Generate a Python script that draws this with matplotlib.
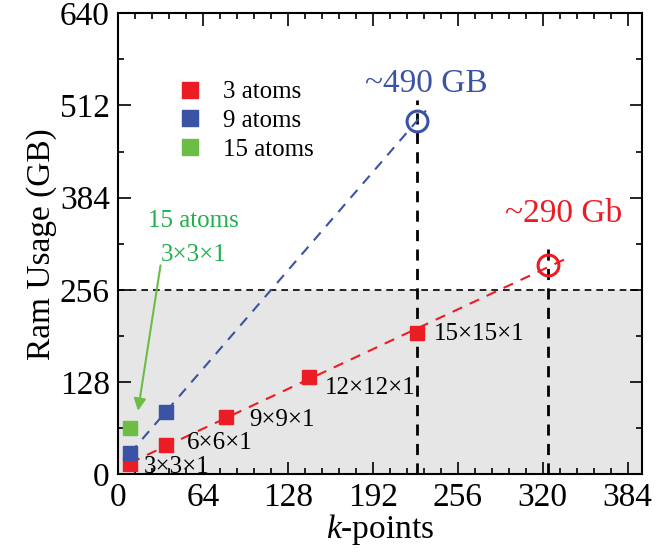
import numpy as np
import matplotlib.pyplot as plt
from matplotlib.ticker import MultipleLocator

plt.rcParams['font.family'] = ['Liberation Serif', 'DejaVu Serif']
plt.rcParams['mathtext.fontset'] = 'custom'
plt.rcParams['mathtext.it'] = 'Liberation Serif:italic'
plt.rcParams['mathtext.rm'] = 'Liberation Serif'

# data
k3 = [9, 36, 81, 144, 225]
ram3 = [14, 40, 79, 135, 196]
k9 = [9, 36]
ram9 = [29, 86]
k15 = [9]
ram15 = [64]
grids3 = ['3×3×1', '6×6×1', '9×9×1', '12×12×1', '15×15×1']
# extrapolated estimates
est9 = (225, 490)
est3 = (324, 290)

red = '#ec1c24'
blue = '#3a53a4'
green = '#6cbd45'
gtext = '#1fb14b'

fig = plt.figure(figsize=(6.56, 5.52), dpi=100)
ax = fig.add_axes([0.18, 0.141, 0.799, 0.835])

ax.set_xlim(0, 395)
ax.set_ylim(0, 640)

# shaded region below 256 GB
ax.axhspan(0, 256, color='#e6e6e6', zorder=0, lw=0)
ax.axhline(256, color='k', ls=(0, (4, 3)), lw=1.2, zorder=1)

# vertical guides
ax.vlines(est9[0], 0, 519, colors='k', linestyles=(0, (4, 3)), lw=2, zorder=1)
ax.vlines(est3[0], 0, 321, colors='k', linestyles=(0, (4, 3)), lw=2, zorder=1)

# trend lines
p3 = np.polyfit(k3 + [est3[0]], ram3 + [est3[1]], 1)
xr = np.array([9, 341])
ax.plot(xr, np.polyval(p3, xr), color=red, ls=(0, (5, 4)), lw=1.5, zorder=2)
p9 = np.polyfit([k9[0], est9[0]], [ram9[0], est9[1]], 1)
xb = np.array([9, 232])
ax.plot(xb, np.polyval(p9, xb), color=blue, ls=(0, (5, 4)), lw=1.5, zorder=2)

ax.plot(k3, ram3, 's', color=red, ms=10, ls='none', label='3 atoms', zorder=4)
ax.plot(k9, ram9, 's', color=blue, ms=10, ls='none', label='9 atoms', zorder=4)
ax.plot(k15, ram15, 's', color=green, ms=10, ls='none', label='15 atoms', zorder=4)

ax.plot(*est9, 'o', mfc='none', mec=blue, mew=2.2, ms=15, zorder=5)
ax.plot(*est3, 'o', mfc='none', mec=red, mew=2.2, ms=15, zorder=5)

ax.text(est9[0] + 7, 530, '~490 GB', color=blue, fontsize=24, ha='center', va='baseline')
ax.text(est3[0] + 12, 362, '~290 Gb', color=red, fontsize=24, ha='center', va='center')

offs = [(10, -4), (16, 3), (18, -4), (12, -15), (13, -2)]
for k, r, g, (dx, dy) in zip(k3, ram3, grids3, offs):
    ax.text(k + dx, r + dy, g, fontsize=18, ha='left', va='center')

ax.text(57, 352, '15 atoms', color=gtext, fontsize=18, ha='center', va='center')
ax.text(57, 304, '3×3×1', color=gtext, fontsize=18, ha='center', va='center')
ax.annotate('', xy=(15, 88), xytext=(32, 290),
            arrowprops=dict(arrowstyle='-|>', color=green, lw=1.5,
                            mutation_scale=18, shrinkA=0, shrinkB=0))

ax.set_xticks([0, 64, 128, 192, 256, 320, 384])
ax.set_yticks([0, 128, 256, 384, 512, 640])
ax.xaxis.set_minor_locator(MultipleLocator(12.8))
ax.yaxis.set_minor_locator(MultipleLocator(64))
ax.tick_params(which='both', direction='in', top=True, right=True, labelsize=24, width=1.2)
ax.tick_params(which='major', length=9, pad=6)
ax.tick_params(which='minor', length=4.5)
for s in ax.spines.values():
    s.set_linewidth(1.5)

ax.set_xlabel('$k$-points', fontsize=24, labelpad=-1)
ax.set_ylabel('Ram Usage (GB)', fontsize=24, labelpad=2)

ax.legend(loc='upper left', bbox_to_anchor=(0.1, 0.875), frameon=False, fontsize=18,
          handlelength=0.8, handletextpad=0.9, labelspacing=0.25, markerscale=1.2,
          borderaxespad=0)

fig.savefig('out.png', dpi=100)
